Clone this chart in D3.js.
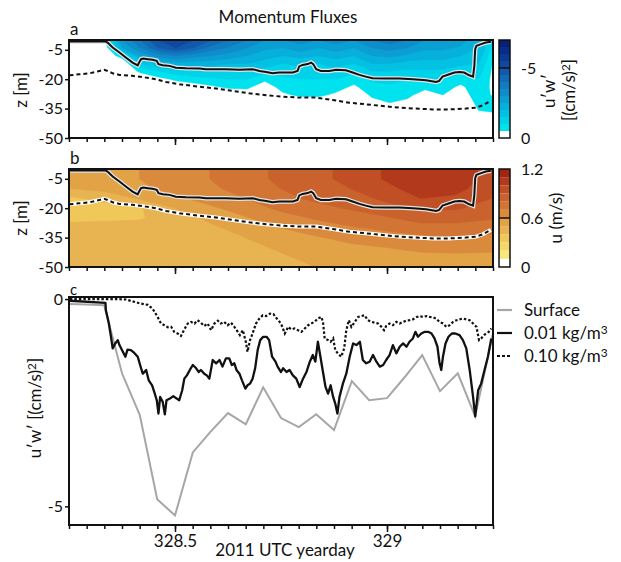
<!DOCTYPE html>
<html>
<head>
<meta charset="utf-8">
<script src="https://cdn.jsdelivr.net/npm/d3@7"></script>
<style>
  body { margin: 0; background: #fff; }
  svg text { font-family: Lato, "DejaVu Sans", sans-serif; fill: #111; }
</style>
</head>
<body>
<svg id="chart" width="621" height="562"></svg>
<script>
// ---- data ----
var yeardayLabels = [328.5, 329];
var depthTicks = [-5, -20, -35, -50];
var fluxTicks = [0, -5];

// panel a: u'w' profiles [(cm/s)^2], one per hour, depths below
var fluxTimes = [328.25, 328.292, 328.333, 328.375, 328.417, 328.458, 328.5, 328.542, 328.583,
  328.625, 328.667, 328.708, 328.75, 328.792, 328.833, 328.875, 328.917, 328.958, 329.0,
  329.042, 329.083, 329.125, 329.167, 329.208, 329.25];
var fluxDepths = [0, -4, -8, -12, -16, -20, -24, -28, -32, -36, -40];
var fluxProfiles = [
  [0, 0, 0, 0, 0, 0, 0, 0, 0, 0, 0],
  [0, 0, 0, 0, 0, 0, 0, 0, 0, 0, 0],
  [-0.3, -0.1, 0, 0, 0, 0, 0, 0, 0, 0, 0],
  [-3.0, -2.5, -0.8, 0, 0, 0, 0, 0, 0, 0, 0],
  [-4.0, -3.5, -2.5, -1.5, -0.6, 0, 0, 0, 0, 0, 0],
  [-5.0, -4.5, -3.2, -2.0, -1.0, -0.3, 0, 0, 0, 0, 0],
  [-5.5, -5.0, -3.5, -2.3, -1.3, -0.6, -0.1, 0, 0, 0, 0],
  [-5.0, -4.5, -3.2, -2.2, -1.4, -0.8, -0.2, 0, 0, 0, 0],
  [-4.5, -3.8, -3.0, -2.2, -1.5, -0.9, -0.4, 0, 0, 0, 0],
  [-4.0, -3.4, -2.8, -2.0, -1.4, -1.0, -0.6, -0.1, 0, 0, 0],
  [-3.5, -3.0, -2.5, -2.0, -1.5, -1.0, -0.6, -0.2, 0, 0, 0],
  [-3.0, -2.6, -2.2, -1.8, -1.2, -0.6, -0.2, 0, 0, 0, 0],
  [-3.0, -2.5, -2.0, -1.5, -1.2, -0.9, -0.7, -0.4, 0, 0, 0],
  [-3.2, -2.8, -2.2, -1.6, -1.3, -1.0, -0.8, -0.6, -0.1, 0, 0],
  [-3.0, -2.5, -2.0, -1.5, -1.2, -1.0, -0.8, -0.6, -0.2, 0, 0],
  [-3.2, -2.8, -2.2, -1.7, -1.3, -1.0, -0.7, -0.4, 0, 0, 0],
  [-3.0, -2.5, -2.0, -1.5, -1.1, -0.7, -0.4, 0, 0, 0, 0],
  [-3.5, -3.0, -2.5, -2.0, -1.5, -1.1, -0.8, -0.6, -0.3, 0, 0],
  [-3.8, -3.2, -2.6, -2.0, -1.5, -1.2, -0.9, -0.7, -0.5, -0.1, 0],
  [-3.5, -3.0, -2.4, -1.8, -1.4, -1.0, -0.8, -0.6, -0.4, 0, 0],
  [-3.0, -2.6, -2.2, -1.8, -1.4, -1.0, -0.6, -0.3, -0.1, 0, 0],
  [-3.0, -2.6, -2.2, -1.8, -1.4, -1.0, -0.7, -0.5, -0.3, 0, 0],
  [-2.8, -2.4, -2.0, -1.6, -1.2, -0.7, -0.4, -0.3, -0.2, 0, 0],
  [-2.0, -2.0, -1.8, -1.5, -1.2, -1.0, -0.8, -0.7, -0.6, -0.5, -0.2],
  [-1.0, -0.7, -0.3, -0.2, -0.2, -0.2, -0.3, -0.4, -0.6, -0.6, -0.2]
];
var fluxLevels = [0, -0.5, -1, -1.5, -2, -2.5, -3, -3.5, -4, -4.5, -5, -5.5, -6, -6.5, -7];
var fluxColors = ['#ffffff', '#00e3ef', '#00d2ea', '#02c1e3', '#07afdb', '#0b9ed3', '#0f8dca',
  '#127cc1', '#136bb7', '#1259ab', '#0f489f', '#0c3993', '#0a2b87', '#081f7b'];

// panel b: u [m/s], rows = depths, columns = times
var velTimes = [328.25, 328.333, 328.417, 328.5, 328.583, 328.667, 328.75, 328.833, 328.917, 329.0, 329.083, 329.167, 329.25];
var velDepths = [0, -5, -10, -15, -20, -25, -30, -35, -40, -45, -50];
var velGrid = [
  [0.52, 0.55, 0.60, 0.65, 0.70, 0.76, 0.82, 0.87, 0.93, 1.01, 1.08, 1.07, 0.96],
  [0.52, 0.55, 0.60, 0.65, 0.70, 0.76, 0.82, 0.87, 0.93, 1.01, 1.08, 1.06, 0.96],
  [0.50, 0.53, 0.58, 0.63, 0.68, 0.74, 0.80, 0.85, 0.90, 0.97, 1.05, 1.03, 0.94],
  [0.38, 0.43, 0.51, 0.58, 0.64, 0.70, 0.77, 0.82, 0.86, 0.92, 1.00, 0.98, 0.90],
  [0.34, 0.36, 0.39, 0.50, 0.58, 0.65, 0.72, 0.77, 0.81, 0.86, 0.92, 0.91, 0.86],
  [0.37, 0.38, 0.39, 0.45, 0.52, 0.59, 0.66, 0.71, 0.75, 0.79, 0.84, 0.84, 0.81],
  [0.44, 0.44, 0.44, 0.45, 0.48, 0.54, 0.60, 0.65, 0.69, 0.72, 0.76, 0.76, 0.74],
  [0.45, 0.45, 0.45, 0.46, 0.47, 0.50, 0.55, 0.59, 0.63, 0.66, 0.68, 0.69, 0.68],
  [0.45, 0.45, 0.45, 0.46, 0.47, 0.48, 0.51, 0.55, 0.58, 0.60, 0.62, 0.63, 0.62],
  [0.45, 0.45, 0.45, 0.46, 0.46, 0.47, 0.49, 0.52, 0.54, 0.56, 0.58, 0.58, 0.58],
  [0.45, 0.45, 0.45, 0.45, 0.46, 0.47, 0.48, 0.50, 0.52, 0.54, 0.55, 0.56, 0.56]
];
var velLevels = [0, 0.1, 0.2, 0.3, 0.4, 0.5, 0.6, 0.7, 0.8, 0.9, 1.0, 1.1, 1.2];
var velColors = ['#ffffff', '#f8e77c', '#f4d766', '#f0c85a', '#e8b452', '#e2a246', '#da8a3c',
  '#d27534', '#c9622c', '#c04f25', '#b2391b', '#a32412'];

// depth of the 0.01 and 0.10 kg/m^3 density criteria [yearday, z]
var mld001 = [[328.251, -0.8], [328.337, -0.8], [328.341, -1.3], [328.353, -3.8], [328.369, -6.4],
  [328.384, -8.9], [328.400, -11.5], [328.412, -12.9], [328.416, -11.2], [328.420, -9.8],
  [328.425, -9.5], [328.436, -9.8], [328.447, -10.1], [328.457, -10.6], [328.461, -12.3],
  [328.471, -12.9], [328.487, -13.2], [328.502, -14.1], [328.526, -14.4], [328.557, -14.6],
  [328.573, -14.9], [328.597, -14.9], [328.620, -14.9], [328.652, -15.2], [328.683, -14.9],
  [328.699, -15.8], [328.715, -16.3], [328.730, -17.0], [328.746, -16.6], [328.778, -16.6],
  [328.789, -15.8], [328.793, -13.5], [328.801, -12.7], [328.813, -12.3], [328.821, -11.5],
  [328.826, -12.3], [328.833, -14.9], [328.844, -15.8], [328.864, -15.8], [328.880, -15.2],
  [328.903, -15.4], [328.919, -16.6], [328.935, -17.8], [328.950, -18.7], [328.966, -19.5],
  [328.998, -19.7], [329.029, -19.7], [329.061, -20.0], [329.092, -20.5], [329.116, -21.4],
  [329.123, -20.9], [329.131, -18.7], [329.147, -17.5], [329.159, -16.6], [329.171, -16.3],
  [329.182, -16.6], [329.194, -18.0], [329.203, -18.7], [329.206, -13.2], [329.208, -4.7],
  [329.211, -3.0], [329.222, -2.1], [329.233, -1.3], [329.245, -0.9]];
var mld010 = [[328.251, -18.0], [328.274, -17.5], [328.298, -17.0], [328.322, -15.8], [328.333, -15.2],
  [328.341, -15.8], [328.353, -17.0], [328.369, -17.8], [328.400, -18.3], [328.432, -19.2],
  [328.455, -20.0], [328.479, -21.4], [328.510, -22.6], [328.557, -23.8], [328.597, -24.8],
  [328.636, -26.0], [328.675, -27.2], [328.715, -28.2], [328.754, -28.9], [328.793, -29.4],
  [328.833, -29.4], [328.872, -30.6], [328.911, -32.0], [328.950, -32.8], [328.990, -33.7],
  [329.029, -34.5], [329.068, -35.0], [329.108, -35.4], [329.147, -35.4], [329.186, -35.0],
  [329.210, -34.5], [329.226, -33.3], [329.237, -32.0], [329.245, -31.1]];

// panel c: u'w' [(cm/s)^2]
var surfaceFlux = [[328.25, -0.12], [328.292, -0.13], [328.333, -0.15], [328.375, -1.79], [328.417, -2.80],
  [328.458, -4.83], [328.5, -5.22], [328.542, -3.70], [328.583, -3.21], [328.625, -2.75],
  [328.667, -3.02], [328.708, -2.13], [328.75, -2.87], [328.792, -3.09], [328.833, -2.78],
  [328.875, -3.16], [328.917, -1.98], [328.958, -2.44], [329.0, -2.39], [329.042, -1.88],
  [329.083, -1.35], [329.125, -2.22], [329.167, -1.79], [329.208, -2.83], [329.25, -0.82]];
var flux001 = [[328.252, -0.04], [328.336, -0.09], [328.337, -0.27], [328.344, -0.59], [328.349, -0.91],
  [328.353, -1.19], [328.359, -1.07], [328.365, -0.99], [328.369, -1.11], [328.377, -1.27],
  [328.383, -1.39], [328.388, -1.22], [328.396, -1.23], [328.404, -1.30], [328.412, -1.39],
  [328.420, -1.67], [328.424, -1.80], [328.432, -1.71], [328.438, -1.96], [328.446, -2.08],
  [328.451, -2.24], [328.457, -2.44], [328.461, -2.76], [328.465, -2.36], [328.471, -2.48],
  [328.476, -2.78], [328.480, -2.44], [328.488, -2.40], [328.496, -2.34], [328.504, -2.40],
  [328.510, -2.44], [328.517, -2.20], [328.522, -1.92], [328.528, -1.84], [328.535, -1.71],
  [328.542, -1.59], [328.550, -1.67], [328.556, -1.76], [328.561, -1.71], [328.569, -1.80],
  [328.575, -1.84], [328.581, -1.92], [328.589, -1.47], [328.597, -1.55], [328.605, -1.47],
  [328.612, -1.63], [328.620, -1.43], [328.628, -1.43], [328.634, -1.59], [328.640, -1.55],
  [328.645, -1.71], [328.652, -1.80], [328.658, -1.96], [328.666, -2.16], [328.671, -2.08],
  [328.677, -2.04], [328.683, -1.92], [328.689, -1.67], [328.695, -1.23], [328.701, -0.99],
  [328.708, -0.91], [328.716, -0.91], [328.722, -0.99], [328.729, -1.39], [328.737, -1.51],
  [328.742, -1.63], [328.750, -1.76], [328.755, -1.67], [328.763, -1.76], [328.770, -1.71],
  [328.778, -1.84], [328.786, -1.92], [328.794, -2.12], [328.802, -1.92], [328.810, -1.76],
  [328.818, -1.51], [328.825, -1.35], [328.831, -1.51], [328.837, -1.03], [328.843, -1.39],
  [328.849, -1.76], [328.855, -2.12], [328.861, -2.28], [328.867, -2.08], [328.873, -2.36],
  [328.878, -2.52], [328.883, -2.76], [328.888, -2.36], [328.896, -2.04], [328.904, -1.80],
  [328.912, -1.39], [328.920, -1.07], [328.928, -1.11], [328.936, -1.03], [328.943, -1.47],
  [328.951, -1.55], [328.959, -1.51], [328.967, -1.35], [328.975, -1.51], [328.983, -1.63],
  [328.991, -1.59], [328.998, -1.47], [329.006, -1.35], [329.014, -1.11], [329.022, -1.31],
  [329.030, -1.15], [329.038, -1.07], [329.046, -1.15], [329.053, -1.03], [329.061, -0.95],
  [329.067, -0.79], [329.073, -0.91], [329.081, -0.83], [329.089, -0.79], [329.097, -0.79],
  [329.105, -0.83], [329.112, -0.95], [329.119, -1.15], [329.124, -1.55], [329.128, -1.71],
  [329.132, -1.39], [329.138, -1.07], [329.145, -0.91], [329.153, -0.83], [329.161, -0.83],
  [329.171, -0.87], [329.179, -0.99], [329.187, -1.19], [329.195, -1.71], [329.203, -2.36],
  [329.208, -2.83], [329.215, -2.20], [329.222, -2.04], [329.230, -1.71], [329.238, -1.39],
  [329.246, -0.95]];
var flux010 = [[328.252, 0.0], [328.322, 0.0], [328.361, 0.0], [328.384, -0.01], [328.416, -0.10],
  [328.436, -0.14], [328.447, -0.23], [328.459, -0.43], [328.467, -0.59], [328.475, -0.63],
  [328.483, -0.68], [328.491, -0.67], [328.498, -0.79], [328.506, -0.83], [328.514, -0.89],
  [328.522, -0.73], [328.530, -0.59], [328.538, -0.55], [328.546, -0.59], [328.553, -0.51],
  [328.561, -0.57], [328.569, -0.65], [328.577, -0.59], [328.585, -0.75], [328.593, -0.59],
  [328.601, -0.52], [328.608, -0.59], [328.616, -0.55], [328.624, -0.63], [328.632, -0.57],
  [328.640, -0.67], [328.648, -0.79], [328.653, -0.87], [328.660, -0.75], [328.667, -1.03],
  [328.671, -1.27], [328.677, -0.99], [328.683, -0.83], [328.691, -0.59], [328.699, -0.47],
  [328.707, -0.39], [328.715, -0.41], [328.724, -0.35], [328.732, -0.36], [328.740, -0.47],
  [328.750, -0.59], [328.759, -0.83], [328.767, -0.67], [328.774, -0.73], [328.782, -0.71],
  [328.790, -0.75], [328.798, -0.79], [328.806, -0.71], [328.814, -0.63], [328.821, -0.59],
  [328.829, -0.55], [328.837, -0.47], [328.845, -0.43], [328.849, -0.55], [328.853, -0.95],
  [328.861, -0.99], [328.867, -1.03], [328.873, -0.95], [328.878, -1.23], [328.884, -1.31],
  [328.892, -1.39], [328.899, -1.19], [328.904, -0.75], [328.910, -0.51], [328.916, -0.67],
  [328.924, -0.55], [328.932, -0.43], [328.939, -0.41], [328.947, -0.39], [328.955, -0.51],
  [328.963, -0.55], [328.971, -0.57], [328.979, -0.59], [328.987, -0.67], [328.993, -0.75],
  [328.998, -0.65], [329.006, -0.59], [329.014, -0.63], [329.022, -0.55], [329.030, -0.59],
  [329.038, -0.55], [329.046, -0.52], [329.053, -0.51], [329.061, -0.49], [329.069, -0.44],
  [329.077, -0.41], [329.085, -0.43], [329.093, -0.41], [329.101, -0.43], [329.109, -0.44],
  [329.116, -0.47], [329.124, -0.55], [329.132, -0.59], [329.140, -0.67], [329.148, -0.63],
  [329.156, -0.55], [329.164, -0.51], [329.171, -0.49], [329.179, -0.47], [329.187, -0.49],
  [329.195, -0.51], [329.203, -0.59], [329.211, -0.67], [329.217, -0.99], [329.222, -0.95],
  [329.229, -0.87], [329.234, -0.83], [329.240, -0.79], [329.246, -0.71]];

// ---- drawing ----
var svg = d3.select('#chart');
var x = d3.scaleLinear().domain([328.25, 329.25]).range([69, 493]);
var yA = d3.scaleLinear().domain([0, -50]).range([40, 138]);
var yB = d3.scaleLinear().domain([0, -50]).range([169, 267]);
var yC = d3.scaleLinear().domain([0.05, -5.45]).range([297, 525]);
var hourTicks = d3.range(0, 25).map(function (k) { return 328.25 + k / 24; });

var defs = svg.append('defs');
function addClip(id, y) {
    defs.append('clipPath').attr('id', id).append('rect')
        .attr('x', x.range()[0]).attr('y', y.range()[0])
        .attr('width', x.range()[1] - x.range()[0])
        .attr('height', y.range()[1] - y.range()[0]);
}
addClip('clipA', yA);
addClip('clipB', yB);
addClip('clipC', yC);

// filled contours of a (time x depth) grid
function drawField(g, times, depths, values, thresholds, colors, y) {
    var nx = times.length, ny = depths.length;
    var dt = times[1] - times[0], dz = depths[1] - depths[0];
    var path = d3.geoPath(d3.geoTransform({
        point: function (px, py) {
            this.stream.point(x(times[0] + (px - 0.5) * dt), y(depths[0] + (py - 0.5) * dz));
        }
    }));
    g.append('rect')
        .attr('x', x.range()[0]).attr('y', y.range()[0])
        .attr('width', x.range()[1] - x.range()[0])
        .attr('height', y.range()[1] - y.range()[0])
        .attr('fill', colors[0]);
    var bands = d3.contours().size([nx, ny]).thresholds(thresholds)(values);
    g.selectAll('path.band').data(bands).enter().append('path')
        .attr('class', 'band')
        .attr('d', path)
        .attr('fill', function (d, i) { return colors[i + 1]; })
        .attr('stroke', function (d, i) { return colors[i + 1]; })
        .attr('stroke-width', 0.5);
}

// panel a field (magnitudes, so thresholds go upward)
var fluxValues = [];
fluxDepths.forEach(function (z, r) {
    fluxTimes.forEach(function (t, c) { fluxValues.push(-fluxProfiles[c][r]); });
});
var gA = svg.append('g').attr('clip-path', 'url(#clipA)');
drawField(gA, fluxTimes, fluxDepths, fluxValues,
    fluxLevels.slice(1, -1).map(function (v) { return -v; }), fluxColors, yA);

// panel b field
var velValues = [];
velGrid.forEach(function (row) { row.forEach(function (v) { velValues.push(v); }); });
var gB = svg.append('g').attr('clip-path', 'url(#clipB)');
drawField(gB, velTimes, velDepths, velValues, velLevels.slice(1, -1), velColors, yB);

// density-criterion depths on panels a and b
function mldLines(g, y, dashedHalo) {
    var line = d3.line().x(function (d) { return x(d[0]); }).y(function (d) { return y(d[1]); });
    g.append('path').attr('d', line(mld001)).attr('fill', 'none')
        .attr('stroke', '#e4e4e4').attr('stroke-width', 4.5);
    g.append('path').attr('d', line(mld001)).attr('fill', 'none')
        .attr('stroke', '#111').attr('stroke-width', 2);
    if (dashedHalo)
        g.append('path').attr('d', line(mld010)).attr('fill', 'none')
            .attr('stroke', '#fff').attr('stroke-width', 4);
    g.append('path').attr('d', line(mld010)).attr('fill', 'none')
        .attr('stroke', '#111').attr('stroke-width', 2).attr('stroke-dasharray', '4,3');
}
mldLines(gA, yA, false);
mldLines(gB, yB, true);

// panel c lines
var gC = svg.append('g').attr('clip-path', 'url(#clipC)');
var lineC = d3.line().x(function (d) { return x(d[0]); }).y(function (d) { return yC(d[1]); });
gC.append('path').attr('d', lineC(surfaceFlux)).attr('fill', 'none')
    .attr('stroke', '#a6a6a6').attr('stroke-width', 2);
gC.append('path').attr('d', lineC(flux001)).attr('fill', 'none')
    .attr('stroke', '#111').attr('stroke-width', 2.3).attr('stroke-linejoin', 'round');
gC.append('path').attr('d', lineC(flux010)).attr('fill', 'none')
    .attr('stroke', '#111').attr('stroke-width', 2.2).attr('stroke-dasharray', '2.5,2');

// axes and frames
function frame(y, yTicks) {
    var bottom = y.range()[1];
    var minor = svg.append('g').attr('transform', 'translate(0,' + bottom + ')')
        .call(d3.axisBottom(x).tickValues(hourTicks).tickSize(4).tickFormat(''));
    minor.select('.domain').remove();
    var major = svg.append('g').attr('transform', 'translate(0,' + bottom + ')')
        .call(d3.axisBottom(x).tickValues(yeardayLabels).tickSize(7).tickPadding(3)
            .tickFormat(y === yC ? d3.format('') : ''));
    major.select('.domain').remove();
    major.selectAll('text').style('font-size', '17px');
    var left = svg.append('g').attr('transform', 'translate(' + x.range()[0] + ',0)')
        .call(d3.axisLeft(y).tickValues(yTicks).tickSize(4).tickPadding(2)
            .tickFormat(function (d) { return String(d); }));
    left.select('.domain').remove();
    left.selectAll('text').style('font-size', '16px');
    svg.selectAll('.tick line').attr('stroke', '#111').attr('stroke-width', 1.5);
    svg.append('rect')
        .attr('x', x.range()[0]).attr('y', y.range()[0])
        .attr('width', x.range()[1] - x.range()[0])
        .attr('height', y.range()[1] - y.range()[0])
        .attr('fill', 'none').attr('stroke', '#111').attr('stroke-width', 2);
}
frame(yA, depthTicks);
frame(yB, depthTicks);
frame(yC, fluxTicks);

// colour bars
function colorbar(levels, colors, y0, y1, labels, markLevel) {
    var cb = d3.scaleLinear().domain([levels[0], levels[levels.length - 1]]).range([y1, y0]);
    var g = svg.append('g');
    g.selectAll('rect.lev').data(colors).enter().append('rect')
        .attr('x', 499).attr('width', 11)
        .attr('y', function (d, i) { return Math.min(cb(levels[i]), cb(levels[i + 1])); })
        .attr('height', function (d, i) { return Math.abs(cb(levels[i]) - cb(levels[i + 1])); })
        .attr('fill', function (d) { return d; });
    g.append('rect').attr('x', 499).attr('y', y0).attr('width', 11).attr('height', y1 - y0)
        .attr('fill', 'none').attr('stroke', '#111').attr('stroke-width', 1.5);
    g.append('line').attr('x1', 499).attr('x2', 510)
        .attr('y1', cb(markLevel)).attr('y2', cb(markLevel))
        .attr('stroke', '#111').attr('stroke-width', 1.5);
    g.selectAll('text').data(labels).enter().append('text')
        .attr('x', 521).attr('y', function (d) { return cb(d.v); }).attr('dy', '0.36em')
        .style('font-size', '16px')
        .text(function (d) { return d.t; });
}
colorbar(fluxLevels, fluxColors, 40, 138, [{ v: -5, t: '-5' }, { v: 0, t: '0' }], -5);
colorbar(velLevels, velColors, 169, 267, [{ v: 1.2, t: '1.2' }, { v: 0.6, t: '0.6' }, { v: 0, t: '0' }], 0.6);

// text, with an optional superscript part
function addText(sel, base, sup, tail) {
    sel.append('tspan').text(base);
    if (sup) {
        sel.append('tspan').attr('dy', '-0.45em').style('font-size', '0.7em').text(sup);
        if (tail) sel.append('tspan').attr('dy', '0.32em').text(tail);
    }
    return sel;
}
function vtext(tx, ty, base, sup, tail) {
    var t = svg.append('text').attr('transform', 'translate(' + tx + ',' + ty + ') rotate(-90)')
        .attr('text-anchor', 'middle').style('font-size', '17px');
    addText(t, base, sup, tail);
}
svg.append('text').attr('x', 288).attr('y', 23).attr('text-anchor', 'middle')
    .style('font-size', '17px').text('Momentum Fluxes');
svg.append('text').attr('x', 70).attr('y', 35).style('font-size', '17px').text('a');
svg.append('text').attr('x', 70).attr('y', 164).style('font-size', '17px').text('b');
svg.append('text').attr('x', 70).attr('y', 295).style('font-size', '15px').text('c');
vtext(27, 90, 'z [m]');
vtext(27, 218, 'z [m]');
vtext(41, 408, 'u\u2032w\u2032 [(cm/s)', '2', ']');
vtext(555, 91, 'u\u2032w\u2032');
vtext(575, 90, '[(cm/s)', '2', ']');
vtext(562, 218, 'u (m/s)');
svg.append('text').attr('x', 285).attr('y', 556).attr('text-anchor', 'middle')
    .style('font-size', '17px').text('2011 UTC yearday');

// legend
var legend = [
    { name: 'Surface', sup: null, color: '#a6a6a6', dash: null, y: 310 },
    { name: '0.01 kg/m', sup: '3', color: '#111', dash: null, y: 333 },
    { name: '0.10 kg/m', sup: '3', color: '#111', dash: '3,2', y: 356 }
];
var lg = svg.selectAll('g.legend').data(legend).enter().append('g').attr('class', 'legend');
lg.append('line').attr('x1', 497).attr('x2', 512)
    .attr('y1', function (d) { return d.y; }).attr('y2', function (d) { return d.y; })
    .attr('stroke', function (d) { return d.color; }).attr('stroke-width', 2.2)
    .attr('stroke-dasharray', function (d) { return d.dash; });
lg.each(function (d) {
    var t = d3.select(this).append('text').attr('x', 524).attr('y', d.y + 6)
        .style('font-size', '17px');
    addText(t, d.name, d.sup);
});
</script>
</body>
</html>
